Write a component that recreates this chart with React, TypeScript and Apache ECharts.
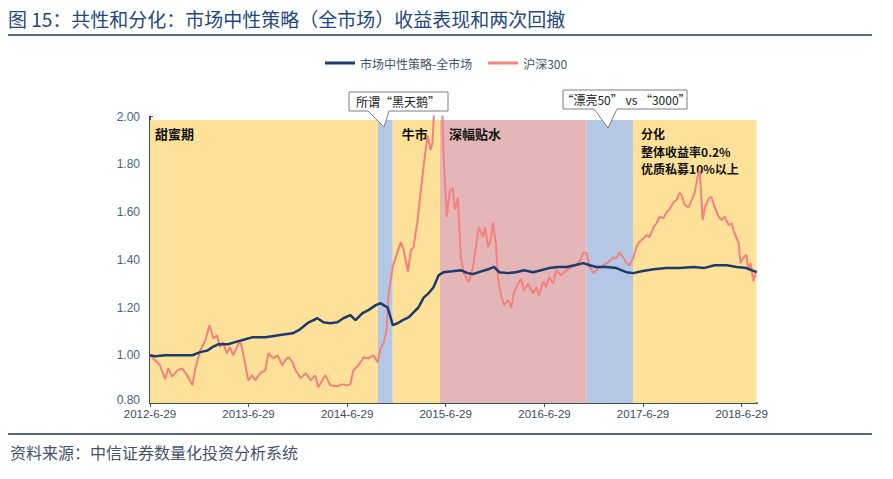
import React, { useEffect, useRef } from "react";
import * as echarts from "echarts";

const xTickLabels = ["2012-6-29", "2013-6-29", "2014-6-29", "2015-6-29", "2016-6-29", "2017-6-29", "2018-6-29"];
const xMin = "2012-06-29";
const xMax = "2018-08-25";

const neutralDates = [
  "2012-06-29", "2012-07-17", "2012-08-24", "2012-10-12", "2012-12-03", "2013-01-01", "2013-01-28", "2013-02-15",
  "2013-03-08", "2013-04-14", "2013-05-10", "2013-06-17", "2013-07-12", "2013-08-03", "2013-08-30", "2013-09-25",
  "2013-10-18", "2013-11-12", "2013-12-09", "2014-01-01", "2014-01-15", "2014-02-07", "2014-03-11", "2014-04-02",
  "2014-04-28", "2014-05-24", "2014-06-15", "2014-07-11", "2014-07-30", "2014-08-25", "2014-09-16", "2014-10-13",
  "2014-10-31", "2014-11-11", "2014-11-26", "2014-12-08", "2014-12-15", "2015-01-02", "2015-01-21", "2015-02-13",
  "2015-03-02", "2015-03-20", "2015-04-08", "2015-04-27", "2015-05-15", "2015-06-03", "2015-06-22", "2015-07-06",
  "2015-07-25", "2015-08-24", "2015-09-19", "2015-10-08", "2015-10-30", "2015-12-03", "2015-12-25", "2016-01-13",
  "2016-02-15", "2016-03-15", "2016-04-14", "2016-05-18", "2016-06-16", "2016-07-16", "2016-08-19", "2016-09-18",
  "2016-10-18", "2016-11-20", "2016-12-13", "2017-01-08", "2017-02-14", "2017-03-22", "2017-04-28", "2017-05-24",
  "2017-06-23", "2017-08-07", "2017-09-24", "2017-11-11", "2018-01-03", "2018-02-09", "2018-03-21", "2018-05-05",
  "2018-06-11", "2018-07-17", "2018-08-23",
];
const neutralValues = [
  1.0, 0.996, 1.0, 1.0, 1.0, 1.013, 1.02, 1.034,
  1.046, 1.046, 1.055, 1.067, 1.075, 1.075, 1.075, 1.08,
  1.084, 1.088, 1.092, 1.105, 1.117, 1.138, 1.155, 1.138,
  1.134, 1.138, 1.155, 1.168, 1.147, 1.176, 1.189, 1.21,
  1.218, 1.21, 1.2, 1.155, 1.126, 1.134, 1.147, 1.16,
  1.18, 1.2, 1.24, 1.26, 1.285, 1.335, 1.348, 1.35,
  1.352, 1.356, 1.344, 1.34, 1.348, 1.36, 1.37, 1.348,
  1.344, 1.348, 1.356, 1.348, 1.356, 1.365, 1.37, 1.37,
  1.377, 1.386, 1.377, 1.37, 1.37, 1.365, 1.348, 1.344,
  1.352, 1.36, 1.365, 1.365, 1.37, 1.365, 1.377, 1.377,
  1.37, 1.365, 1.348,
];

const hs300Dates = [
  "2012-06-29", "2012-07-17", "2012-08-05", "2012-08-24", "2012-09-04", "2012-09-19", "2012-10-08", "2012-10-26",
  "2012-11-14", "2012-12-03", "2012-12-14", "2013-01-01", "2013-01-20", "2013-02-04", "2013-02-19", "2013-03-04",
  "2013-03-15", "2013-03-26", "2013-04-10", "2013-04-21", "2013-05-03", "2013-05-29", "2013-06-09", "2013-06-28",
  "2013-07-12", "2013-07-23", "2013-08-11", "2013-08-30", "2013-09-10", "2013-09-29", "2013-10-14", "2013-11-01",
  "2013-11-12", "2013-11-24", "2013-12-09", "2013-12-20", "2014-01-08", "2014-01-27", "2014-02-14", "2014-03-03",
  "2014-03-14", "2014-04-09", "2014-04-28", "2014-05-24", "2014-06-11", "2014-06-30", "2014-07-11", "2014-07-22",
  "2014-08-10", "2014-08-29", "2014-09-16", "2014-10-05", "2014-10-20", "2014-10-31", "2014-11-11", "2014-11-22",
  "2014-11-30", "2014-12-15", "2014-12-26", "2015-01-14", "2015-01-25", "2015-02-09", "2015-02-20", "2015-03-02",
  "2015-03-17", "2015-03-28", "2015-04-08", "2015-04-23", "2015-05-04", "2015-05-11", "2015-05-19", "2015-05-30",
  "2015-06-07", "2015-06-14", "2015-06-22", "2015-07-03", "2015-07-14", "2015-07-25", "2015-08-02", "2015-08-13",
  "2015-08-24", "2015-09-04", "2015-09-23", "2015-10-08", "2015-10-19", "2015-10-30", "2015-11-14", "2015-11-22",
  "2015-12-03", "2015-12-14", "2015-12-21", "2016-01-01", "2016-01-09", "2016-01-20", "2016-01-31", "2016-02-15",
  "2016-02-27", "2016-03-08", "2016-03-23", "2016-04-03", "2016-04-14", "2016-04-29", "2016-05-18", "2016-05-29",
  "2016-06-09", "2016-06-24", "2016-07-05", "2016-07-16", "2016-07-31", "2016-08-11", "2016-08-30", "2016-09-18",
  "2016-10-07", "2016-10-25", "2016-11-09", "2016-11-20", "2016-12-02", "2016-12-13", "2016-12-28", "2017-01-15",
  "2017-02-03", "2017-02-21", "2017-03-11", "2017-03-22", "2017-04-02", "2017-04-17", "2017-04-28", "2017-05-09",
  "2017-05-24", "2017-06-04", "2017-06-15", "2017-07-01", "2017-07-12", "2017-07-23", "2017-08-07", "2017-08-18",
  "2017-08-29", "2017-09-13", "2017-09-24", "2017-10-05", "2017-10-20", "2017-10-31", "2017-11-11", "2017-11-19",
  "2017-11-30", "2017-12-15", "2017-12-26", "2018-01-06", "2018-01-17", "2018-01-25", "2018-01-29", "2018-02-05",
  "2018-02-13", "2018-02-28", "2018-03-10", "2018-03-21", "2018-04-05", "2018-04-16", "2018-04-27", "2018-05-12",
  "2018-05-23", "2018-06-03", "2018-06-18", "2018-06-25", "2018-07-06", "2018-07-17", "2018-07-24", "2018-08-01",
  "2018-08-12", "2018-08-23",
];
const hs300Values = [
  1.0, 0.98, 0.958, 0.9, 0.945, 0.91, 0.937, 0.945,
  0.916, 0.874, 0.945, 1.02, 1.063, 1.126, 1.07, 1.084,
  1.034, 1.055, 1.008, 1.034, 1.0, 1.063, 1.008, 0.895,
  0.916, 0.895, 0.925, 0.937, 1.008, 0.987, 1.0, 0.958,
  0.979, 0.992, 0.971, 0.937, 0.905, 0.925, 0.895, 0.916,
  0.866, 0.916, 0.874, 0.87, 0.878, 0.874, 0.878, 0.937,
  0.958, 0.992, 0.987, 1.0, 0.971, 1.03, 1.05, 1.105,
  1.26, 1.37, 1.41, 1.474, 1.44, 1.348, 1.44, 1.453,
  1.566, 1.68, 1.79, 1.92, 1.86, 1.887, 2.06, 2.03,
  2.15, 2.1, 1.82, 1.58, 1.69, 1.7, 1.61, 1.66,
  1.41, 1.344, 1.306, 1.37, 1.453, 1.537, 1.495, 1.537,
  1.453, 1.49, 1.557, 1.47, 1.32, 1.25, 1.21, 1.23,
  1.2, 1.264, 1.3, 1.32, 1.27, 1.3, 1.26, 1.285,
  1.25, 1.31, 1.285, 1.327, 1.3, 1.356, 1.335, 1.356,
  1.37, 1.377, 1.398, 1.43, 1.428, 1.37, 1.344, 1.365,
  1.377, 1.39, 1.41, 1.407, 1.43, 1.41, 1.386, 1.377,
  1.407, 1.453, 1.474, 1.49, 1.503, 1.495, 1.537, 1.553,
  1.58, 1.574, 1.6, 1.61, 1.642, 1.65, 1.68, 1.67,
  1.63, 1.62, 1.65, 1.68, 1.746, 1.776, 1.69, 1.566,
  1.62, 1.658, 1.663, 1.62, 1.58, 1.566, 1.58, 1.545,
  1.553, 1.51, 1.47, 1.386, 1.41, 1.42, 1.356, 1.386,
  1.31, 1.356,
];

const phaseLabels = ["甜蜜期", "", "牛市", "深幅贴水", "", "分化\n整体收益率0.2%\n优质私募10%以上"];
const phaseStarts = ["2012-06-29", "2014-10-21", "2014-12-15", "2015-06-08", "2016-12-02", "2017-05-23"];
const phaseEnds = ["2014-10-21", "2014-12-15", "2015-06-08", "2016-12-02", "2017-05-23", "2018-08-23"];
const calloutTexts = ["所谓“黑天鹅”", "“漂亮50” vs “3000”"];

const seriesNames = ["市场中性策略-全市场", "沪深300"];
const titleText = "图 15：共性和分化：市场中性策略（全市场）收益表现和两次回撤";
const sourceText = "资料来源：中信证券数量化投资分析系统";

// styles
const PHASE_COLORS = ["#fde199", "#b4c8e6", "#fde199", "#e5b6b8", "#b4c8e6", "#fde199"];
const PHASE_LABEL_X = [5, 0, 9, 9, 0, 8];
const PHASE_LABEL_SIZE = [13, 13, 13, 13, 13, 12];
const PHASE_LABEL_LH = [17, 17, 17, 17, 17, 17.5];
const NAVY = "#1c3a6c";
const RED = "#f3817e";
const AXIS = "#2f5b46";
const CJK = "'Noto Sans CJK SC', 'Noto Sans', sans-serif";
const LATIN = "'Liberation Sans', Arial, sans-serif";

function toTs(s: string): number {
  const [y, m, d] = s.split("-").map(Number);
  return new Date(y, m - 1, d).getTime();
}

export default function App() {
  const ref = useRef<HTMLDivElement>(null);

  useEffect(() => {
    if (!ref.current) return;
    const chart = echarts.init(ref.current, undefined, { renderer: "svg" });

    const bandTop = 1.985;
    const bandBottom = 0.8;
    const markAreaData = phaseStarts.map((s, i) => [
      {
        xAxis: toTs(s),
        yAxis: bandTop,
        itemStyle: { color: PHASE_COLORS[i], opacity: 1 },
        label: {
          show: phaseLabels[i] !== "",
          formatter: phaseLabels[i],
          position: [PHASE_LABEL_X[i], 5],
          color: "#111",
          fontSize: PHASE_LABEL_SIZE[i],
          fontWeight: "bold",
          fontFamily: CJK,
          lineHeight: PHASE_LABEL_LH[i],
          align: "left",
          verticalAlign: "top",
        },
      },
      { xAxis: toTs(phaseEnds[i]), yAxis: bandBottom },
    ]);

    const callout = (pts: number[][], text: string, cx: number, cy: number) => [
      {
        type: "polygon",
        shape: { points: pts },
        style: { fill: "#ffffff", stroke: "#7f7f7f", lineWidth: 1 },
        z: 10,
      },
      {
        type: "text",
        x: cx,
        y: cy,
        style: {
          text,
          fill: "#222",
          fontSize: 12,
          fontFamily: CJK,
          align: "center",
          verticalAlign: "middle",
        },
        z: 11,
      },
    ];

    const tickValues = xTickLabels.map(toTs);

    const option: any = {
      animation: false,
      backgroundColor: "#ffffff",
      grid: { left: 150, right: 136, top: 116.5, bottom: 76 },
      legend: {
        data: seriesNames,
        left: 320,
        top: 52,
        icon: "rect",
        itemWidth: 30,
        itemHeight: 3,
        itemGap: 16,
        textStyle: { fontSize: 12, color: "#44546a", fontFamily: CJK },
      },
      xAxis: {
        type: "value",
        min: toTs(xMin),
        max: toTs(xMax),
        axisLine: { show: true, lineStyle: { color: AXIS, width: 2 } },
        axisTick: {
          show: true,
          length: 4,
          customValues: tickValues,
          lineStyle: { color: AXIS, width: 1 },
        },
        axisLabel: {
          customValues: tickValues,
          formatter: (v: number) => {
            const d = new Date(v);
            return `${d.getFullYear()}-${d.getMonth() + 1}-${d.getDate()}`;
          },
          fontSize: 11.5,
          color: "#3c4a5c",
          fontFamily: LATIN,
          margin: 5,
        },
        splitLine: { show: false },
      },
      yAxis: {
        type: "value",
        min: 0.8,
        max: 2.0,
        interval: 0.2,
        axisLine: { show: true, lineStyle: { color: AXIS, width: 2 } },
        axisTick: { show: true, inside: true, length: 3, lineStyle: { color: AXIS } },
        axisLabel: {
          formatter: (v: number) => (Math.abs(v - 0.8) < 1e-9 ? `{low|${v.toFixed(2)}}` : v.toFixed(2)),
          fontSize: 12,
          color: "#4a6285",
          fontFamily: LATIN,
          margin: 10,
          rich: {
            low: {
              fontSize: 12,
              color: "#4a6285",
              fontFamily: LATIN,
              padding: [0, 0, 7, 0],
            },
          },
        },
        splitLine: { show: false },
      },
      series: [
        {
          name: seriesNames[0],
          type: "line",
          data: neutralDates.map((d, i) => [toTs(d), neutralValues[i]]),
          showSymbol: false,
          lineStyle: { color: NAVY, width: 2.5 },
          itemStyle: { color: NAVY },
          z: 4,
          clip: true,
        },
        {
          name: seriesNames[1],
          type: "line",
          data: hs300Dates.map((d, i) => [toTs(d), hs300Values[i]]),
          showSymbol: false,
          lineStyle: { color: RED, width: 2 },
          itemStyle: { color: RED },
          z: 3,
          clip: true,
          markArea: { silent: true, z: 1, data: markAreaData },
        },
      ],
      graphic: [
        {
          type: "text",
          x: 8,
          y: 18,
          style: {
            text: titleText,
            fill: "#1f497d",
            fontSize: 19,
            fontFamily: CJK,
            verticalAlign: "middle",
          },
        },
        {
          type: "line",
          shape: { x1: 8, y1: 35, x2: 872, y2: 35 },
          style: { stroke: "#1f3864", lineWidth: 1.5 },
        },
        {
          type: "line",
          shape: { x1: 8, y1: 434, x2: 872, y2: 434 },
          style: { stroke: "#1f3864", lineWidth: 1.5 },
        },
        {
          type: "text",
          x: 10,
          y: 452,
          style: {
            text: sourceText,
            fill: "#44546a",
            fontSize: 16,
            fontFamily: CJK,
            verticalAlign: "middle",
          },
        },
        ...callout(
          [[349, 92], [448, 92], [448, 111], [389, 111], [384, 127], [368, 111], [349, 111]],
          calloutTexts[0],
          398,
          101.5
        ),
        ...callout(
          [[563, 90], [687, 90], [687, 109], [617, 109], [608, 128], [594, 109], [563, 109]],
          calloutTexts[1],
          626,
          99.5
        ),
      ],
    };

    chart.setOption(option);
    return () => chart.dispose();
  }, []);

  return (
    <div
      ref={ref}
      style={{ position: "absolute", left: 0, top: 0, width: 893, height: 479, background: "#fff" }}
    />
  );
}
